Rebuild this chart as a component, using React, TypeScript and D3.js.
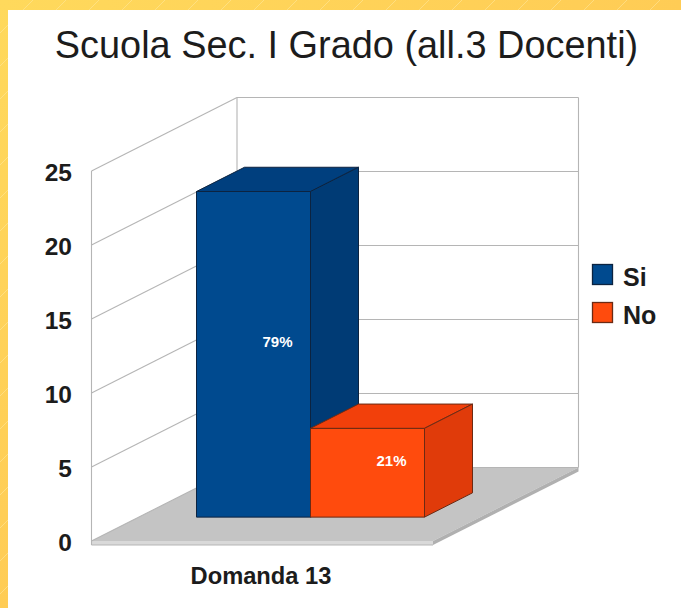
import React from "react";
import * as d3 from "d3";

const title = "Scuola Sec. I Grado (all.3 Docenti)";
const category = "Domanda 13";
const seriesNames = ["Si", "No"];
const seriesValues = [22, 6];
const seriesPercents = ["79%", "21%"];
const frontColors = ["#004a8f", "#ff4b0d"];
const sideColors = ["#003b75", "#e03b0a"];
const topColors = ["#003f7e", "#f2400b"];
const strokeColors = ["#0c2340", "#6b2a14"];
const yTicks = [0, 5, 10, 15, 20, 25];

const FONT = "'Liberation Sans', Arial, sans-serif";
const TEXT = "#1c1c1c";
const GRID = "#b5b5b5";

const y = d3.scaleLinear().domain([0, 25]).range([541, 171]);
const xOuter = d3.scaleLinear().domain([0, 1]).range([91.5, 433]);
const depthX = d3.scaleLinear().domain([0, 1]).range([0, 145.5]);
const depthY = d3.scaleLinear().domain([0, 1]).range([0, -73.5]);
const xBand = d3.scaleBand<string>().domain(seriesNames).range([196.5, 424.5]);

const pt = (px: number, py: number, d: number): [number, number] => [px + depthX(d), py + depthY(d)];
const poly = (pts: [number, number][]) => pts.map((p) => p.join(",")).join(" ");

const barD0 = 0.325;
const barD1 = 0.655;

export default function App() {
  const x0 = xOuter(0);
  const x1 = xOuter(1);
  const y0 = y(0);
  return (
    <svg width={681} height={608} style={{ position: "absolute", left: 0, top: 0, background: "#fff" }} fontFamily={FONT}>
      <defs>
        <linearGradient id="bgv" x1="0" y1="0" x2="0" y2="1">
          <stop offset="0" stopColor="#ffd95c" />
          <stop offset="1" stopColor="#ffcc55" />
        </linearGradient>
        <linearGradient id="bgh" x1="0" y1="0" x2="1" y2="0">
          <stop offset="0" stopColor="#ffd95c" />
          <stop offset="1" stopColor="#ffcc55" />
        </linearGradient>
        <pattern id="stripes" width="33" height="33" patternUnits="userSpaceOnUse">
          <line x1="0" y1="33" x2="33" y2="0" stroke="#ffe9a0" strokeOpacity={0.55} strokeWidth="1" />
        </pattern>
      </defs>
      <rect x={0} y={0} width={681} height={10} fill="url(#bgh)" />
      <rect x={0} y={0} width={8} height={608} fill="url(#bgv)" />
      <rect x={0} y={0} width={681} height={10} fill="url(#stripes)" />
      <rect x={0} y={0} width={8} height={608} fill="url(#stripes)" />

      <text x={346.5} y={58} textAnchor="middle" fontSize={37.9} fill={TEXT}>{title}</text>

      {/* floor */}
      <polygon points={poly([[x0, y0], pt(x0, y0, 1), pt(x1, y0, 1), [x1, y0]])} fill="#c4c4c4" />
      <polygon points={poly([[x0, y0], [x1, y0], [x1, y0 + 4], [x0, y0 + 4]])} fill="#d9d9d9" />
      <polygon points={poly([[x1, y0], pt(x1, y0, 1), pt(x1, y0 + 4, 1), [x1, y0 + 4]])} fill="#b0b0b0" />
      <line x1={x0} x2={x1} y1={y0 + 4} y2={y0 + 4} stroke={GRID} strokeWidth={1} />

      {/* walls and gridlines */}
      {yTicks.map((t) => {
        const a = pt(x0, y(t), 1);
        const b = pt(x1, y(t), 1);
        return (
          <g key={t}>
            <line x1={x0} y1={y(t)} x2={a[0]} y2={a[1]} stroke={GRID} strokeWidth={1.1} />
            <line x1={a[0]} y1={a[1]} x2={b[0]} y2={b[1]} stroke={GRID} strokeWidth={1.1} />
          </g>
        );
      })}
      <line x1={x0} x2={x0} y1={y(0) + 4} y2={y(25)} stroke={GRID} strokeWidth={1.1} />
      <line x1={pt(x0, 0, 1)[0]} x2={pt(x0, 0, 1)[0]} y1={pt(0, y(0), 1)[1]} y2={pt(0, y(25), 1)[1]} stroke={GRID} strokeWidth={1.1} />
      <line x1={pt(x1, 0, 1)[0]} x2={pt(x1, 0, 1)[0]} y1={pt(0, y(0), 1)[1]} y2={pt(0, y(25), 1)[1]} stroke={GRID} strokeWidth={1.1} />

      {/* y tick labels */}
      {yTicks.map((t) => (
        <text key={t} x={72} y={y(t) + 10} textAnchor="end" fontSize={24.5} fontWeight="bold" fill={TEXT}>{t}</text>
      ))}

      {/* bars */}
      {seriesNames.map((s, i) => {
        const xa = xBand(s)!;
        const xb = xa + xBand.bandwidth();
        const yb = pt(0, y(0), barD0)[1];
        const h = y(0) - y(seriesValues[i]);
        const yt = yb - h;
        const dd = barD1 - barD0;
        const label = pt((xa + xb) / 2, (yt + yb) / 2, dd / 2);
        return (
          <g key={s} stroke={strokeColors[i]} strokeWidth={1} strokeLinejoin="round">
            <rect x={xa} y={yt} width={xb - xa} height={h} fill={frontColors[i]} />
            <polygon points={poly([[xa, yt], [xb, yt], pt(xb, yt, dd), pt(xa, yt, dd)])} fill={topColors[i]} />
            <polygon points={poly([[xb, yt], pt(xb, yt, dd), pt(xb, yb, dd), [xb, yb]])} fill={sideColors[i]} />
            <text x={label[0]} y={label[1] + 5} textAnchor="middle" fontSize={15} fontWeight="bold" fill="#fff" stroke="none">
              {seriesPercents[i]}
            </text>
          </g>
        );
      })}

      <text x={261} y={584} textAnchor="middle" fontSize={23.7} fontWeight="bold" fill={TEXT}>{category}</text>

      {/* legend */}
      {seriesNames.map((s, i) => (
        <g key={s}>
          <rect x={592.5} y={264.5 + i * 38} width={20} height={20} fill={frontColors[i]} stroke={strokeColors[i]} strokeWidth={1.3} />
          <text x={623} y={286 + i * 38} fontSize={25} fontWeight="bold" fill={TEXT}>{s}</text>
        </g>
      ))}
    </svg>
  );
}
